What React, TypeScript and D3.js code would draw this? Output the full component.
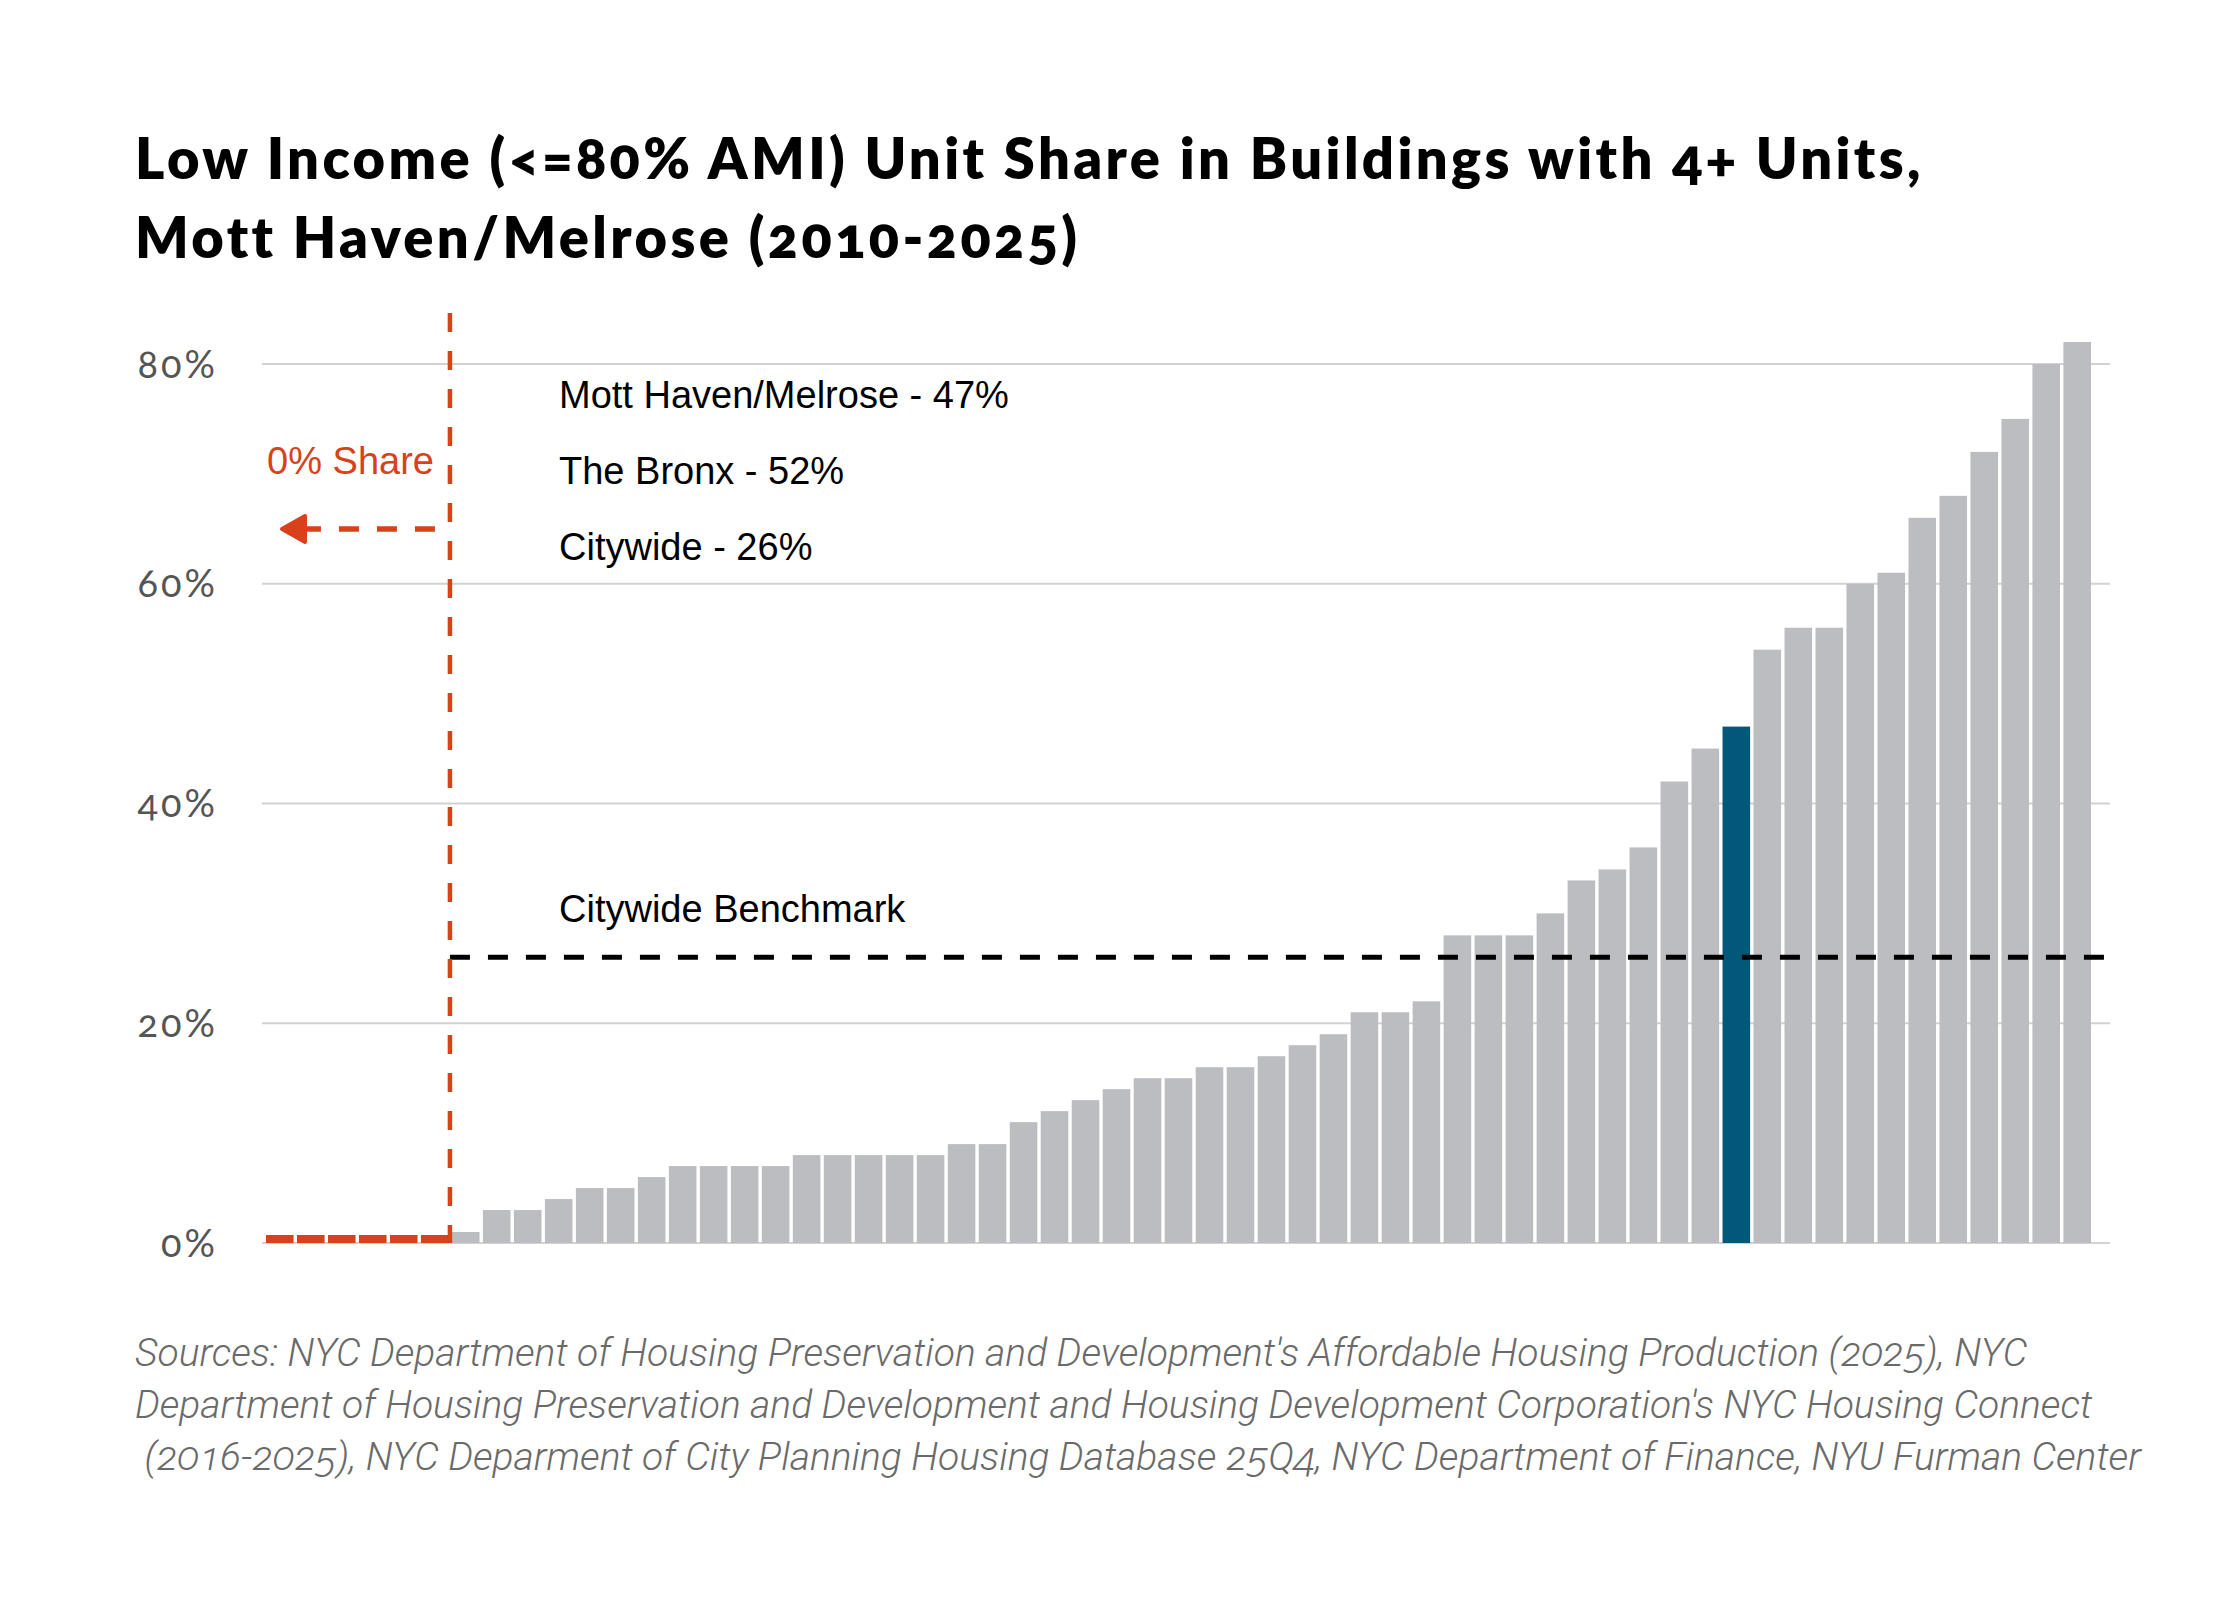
import { useRef, useEffect } from "react";
import * as d3 from "d3";

// Low income unit share by community district, sorted ascending (59 districts)
const DISTRICTS = d3.range(59).map((i) => `CD${i + 1}`);
const SHARE = [
  0, 0, 0, 0, 0, 0,
  1, 3, 3, 4, 5, 5, 6, 7, 7, 7, 7, 8, 8, 8, 8, 8, 9, 9, 11, 12, 13, 14, 15, 15,
  16, 16, 17, 18, 19, 21, 21, 22, 28, 28, 28, 30, 33, 34, 36, 42, 45, 47, 54, 56,
  56, 60, 61, 66, 68, 72, 75, 80, 82,
];
const HIGHLIGHT = 47; // Mott Haven/Melrose
const BENCHMARK = 26;
const Y_TICKS = [0, 20, 40, 60, 80];
const TITLE = [
  "Low Income (<=80% AMI) Unit Share in Buildings with 4+ Units,",
  "Mott Haven/Melrose (2010-2025)",
];
const NOTES = ["Mott Haven/Melrose - 47%", "The Bronx - 52%", "Citywide - 26%"];
const SOURCES = [
  "Sources: NYC Department of Housing Preservation and Development's Affordable Housing Production (2025), NYC",
  "Department of Housing Preservation and Development and Housing Development Corporation's NYC Housing Connect",
  " (2016-2025), NYC Deparment of City Planning Housing Database 25Q4, NYC Department of Finance, NYU Furman Center",
];

const W = 2240;
const H = 1600;
const GREY = "#BCBDC1";
const TEAL = "#03587A";
const RED = "#D9411A";
const GRID = "#D2D2D2";
const SANS = "'Liberation Sans', Arial, sans-serif";
const DISPLAY = "Lato, 'Open Sans', sans-serif";

export default function App() {
  const svgRef = useRef<SVGSVGElement>(null);

  useEffect(() => {
    if (!svgRef.current) return;
    const svg = d3.select(svgRef.current);
    svg.selectAll("*").remove();

    const x = d3.scaleBand().domain(DISTRICTS).range([266, 2091]).paddingInner(0.11).paddingOuter(0);
    const y = d3.scaleLinear().domain([0, 80]).range([1243, 364]);
    const gridX0 = 262;
    const gridX1 = 2110;
    const splitX = (x(DISTRICTS[6]) || 0) - 2;

    // Title
    svg.append("g")
      .selectAll("text")
      .data(TITLE)
      .join("text")
      .attr("x", 135)
      .attr("y", (_, i) => 179 + i * 79)
      .style("font-family", DISPLAY)
      .style("font-weight", "800")
      .style("font-size", "56px")
      .style("letter-spacing", "3.4px")
      .style("font-variant-numeric", "oldstyle-nums")
      .style("fill", "#000")
      .text((d) => d);

    // Grid
    svg.append("g")
      .selectAll("line")
      .data(Y_TICKS)
      .join("line")
      .attr("x1", gridX0).attr("x2", gridX1)
      .attr("y1", (d) => y(d)).attr("y2", (d) => y(d))
      .attr("stroke", GRID).attr("stroke-width", 2);

    // Y labels
    svg.append("g")
      .selectAll("text")
      .data(Y_TICKS)
      .join("text")
      .attr("x", 218)
      .attr("y", (d) => y(d))
      .attr("dy", "0.36em")
      .attr("text-anchor", "end")
      .style("font-family", DISPLAY)
      .style("font-size", "38px")
      .style("letter-spacing", "3px")
      .style("font-variant-numeric", "oldstyle-nums")
      .style("fill", "#555")
      .text((d) => `${d}%`);

    // Bars
    svg.append("g")
      .selectAll("rect")
      .data(SHARE)
      .join("rect")
      .attr("x", (_, i) => x(DISTRICTS[i]) || 0)
      .attr("width", x.bandwidth())
      .attr("y", (d) => (d === 0 ? y(0) - 8 : y(d)))
      .attr("height", (d) => (d === 0 ? 8 : y(0) - y(d)))
      .attr("fill", (d, i) => (d === 0 ? RED : i === HIGHLIGHT ? TEAL : GREY));

    // Citywide benchmark
    svg.append("line")
      .attr("x1", splitX).attr("x2", gridX1)
      .attr("y1", y(BENCHMARK)).attr("y2", y(BENCHMARK))
      .attr("stroke", "#000").attr("stroke-width", 5)
      .attr("stroke-dasharray", "20 18");

    svg.append("text")
      .attr("x", 559).attr("y", 922)
      .style("font-family", SANS).style("font-size", "38px").style("fill", "#000")
      .text("Citywide Benchmark");

    // Zero-share split
    svg.append("line")
      .attr("x1", splitX).attr("x2", splitX)
      .attr("y1", 313).attr("y2", y(0))
      .attr("stroke", RED).attr("stroke-width", 4.5)
      .attr("stroke-dasharray", "19 19");

    svg.append("line")
      .attr("x1", splitX - 15).attr("x2", 300)
      .attr("y1", 529).attr("y2", 529)
      .attr("stroke", RED).attr("stroke-width", 5.5)
      .attr("stroke-dasharray", "20 18");

    svg.append("path")
      .attr("d", "M282,529 L305,516 L305,542 Z")
      .attr("fill", RED).attr("stroke", RED)
      .attr("stroke-width", 4).attr("stroke-linejoin", "round");

    svg.append("text")
      .attr("x", 434).attr("y", 474)
      .attr("text-anchor", "end")
      .style("font-family", SANS).style("font-size", "38px").style("fill", RED)
      .text("0% Share");

    // Summary notes
    svg.append("g")
      .selectAll("text")
      .data(NOTES)
      .join("text")
      .attr("x", 559)
      .attr("y", (_, i) => 408 + i * 76)
      .style("font-family", SANS).style("font-size", "38px").style("fill", "#000")
      .text((d) => d);

    // Sources
    svg.append("g")
      .selectAll("text")
      .data(SOURCES)
      .join("text")
      .attr("x", 135)
      .attr("y", (_, i) => 1366 + i * 52)
      .attr("xml:space", "preserve")
      .style("white-space", "pre")
      .style("font-family", "Roboto, 'Open Sans', sans-serif")
      .style("font-style", "italic")
      .style("font-weight", "300")
      .style("font-size", "39px")
      .style("font-variant-numeric", "oldstyle-nums")
      .style("fill", "#6a6a6a")
      .text((d) => d);
  }, []);

  return (
    <div style={{ width: W, height: H, background: "#fff" }}>
      <style>{"body{margin:0;background:#fff}"}</style>
      <svg ref={svgRef} width={W} height={H} />
    </div>
  );
}
